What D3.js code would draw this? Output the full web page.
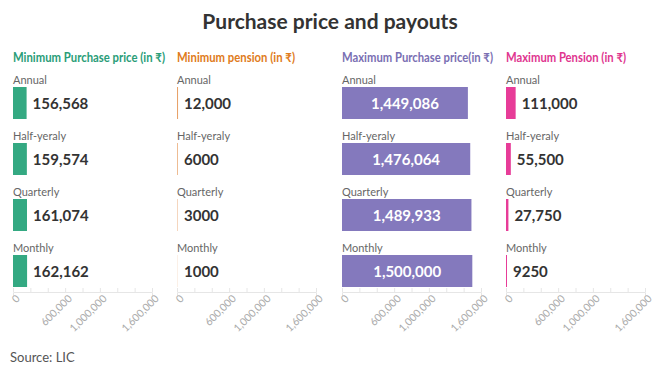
<!DOCTYPE html>
<html><head><meta charset="utf-8">
<script src="https://cdn.jsdelivr.net/npm/d3@7"></script>
<style>
body{margin:0;background:#fff;font-family:"Source Sans Pro",Lato,"Noto Sans",sans-serif;}
</style></head><body>
<svg id="c" width="660" height="368"></svg>
<script>
const categories = ["Annual","Half-yeraly","Quarterly","Monthly"];
const panelTitles = ["Minimum Purchase price (in ₹)","Minimum pension (in ₹)","Maximum Purchase price(in ₹)","Maximum Pension (in ₹)"];
const minPurchase = [156568,159574,161074,162162];
const minPension = [12000,6000,3000,1000];
const maxPurchase = [1449086,1476064,1489933,1500000];
const maxPension = [111000,55500,27750,9250];
const valueLabels = [
  ["156,568","159,574","161,074","162,162"],
  ["12,000","6000","3000","1000"],
  ["1,449,086","1,476,064","1,489,933","1,500,000"],
  ["111,000","55,500","27,750","9250"]
];
const tickValues = [0,200000,400000,600000,800000,1000000,1200000,1400000,1600000];
const tickLabels = {0:"0",600000:"600,000",1000000:"1,000,000",1600000:"1,600,000"};
const series = [minPurchase,minPension,maxPurchase,maxPension];
const titleColors = ["#2a9d78","#e07b20","#7a6fb3","#e0358f"];
const barColors = ["#34a982","#e8a26a","#8479bd","#e73c98"];

const svg = d3.select("#c");
svg.append("text").attr("x",330).attr("y",29).attr("text-anchor","middle")
  .attr("font-size",21).attr("font-weight",700).attr("fill","#333").text("Purchase price and payouts");

const panelX = [13,177,342,506];
const titleW = [152,118,151,120];
const axisW = 139;
const rowY = d3.scaleBand().domain(categories).range([74,298]).paddingInner(0).paddingOuter(0);

series.forEach((vals,i)=>{
  const g = svg.append("g").attr("transform",`translate(${panelX[i]},0)`);
  const x = d3.scaleLinear().domain([0,1600000]).range([0,axisW]);
  g.append("text").attr("x",0).attr("y",62).attr("font-size",12.5).attr("font-weight",700)
    .attr("fill",titleColors[i]).attr("textLength",titleW[i]).attr("lengthAdjust","spacingAndGlyphs")
    .text(panelTitles[i]);
  categories.forEach((c,j)=>{
    const y0 = rowY(c);
    g.append("text").attr("x",0).attr("y",y0+10).attr("font-size",11).attr("fill","#666").text(c);
    const w = Math.max(1, x(vals[j]));
    g.append("rect").attr("x",0).attr("y",y0+13).attr("width",w).attr("height",32)
      .attr("fill",barColors[i]).attr("opacity", i===1 ? (1-j*0.28) : 1);
    const inside = i===2;
    g.append("text")
      .attr("x", inside ? w/2 : w+6)
      .attr("y", y0+35)
      .attr("text-anchor", inside ? "middle" : "start")
      .attr("font-size",15).attr("font-weight",700)
      .attr("fill", inside ? "#fff" : "#333")
      .text(valueLabels[i][j]);
  });
  const axis = d3.axisBottom(x).tickValues(tickValues).tickSize(4)
    .tickFormat(d=>tickLabels[d]||"");
  const ag = g.append("g").attr("transform","translate(0,292)").call(axis);
  ag.select(".domain").attr("stroke","#e6e6e6");
  ag.selectAll(".tick line").attr("stroke","#e6e6e6").attr("y1",0).attr("y2",-4);
  ag.selectAll(".tick text").attr("fill","#aaa").attr("font-size",10.5)
    .attr("font-family","\"Source Sans Pro\",Lato,\"Noto Sans\",sans-serif")
    .attr("text-anchor","end").attr("dy",0).attr("y",10)
    .attr("transform","rotate(-45)").attr("x",0);
});
svg.append("text").attr("x",10).attr("y",362).attr("font-size",13).attr("fill","#555").text("Source: LIC");
</script>
</body></html>
